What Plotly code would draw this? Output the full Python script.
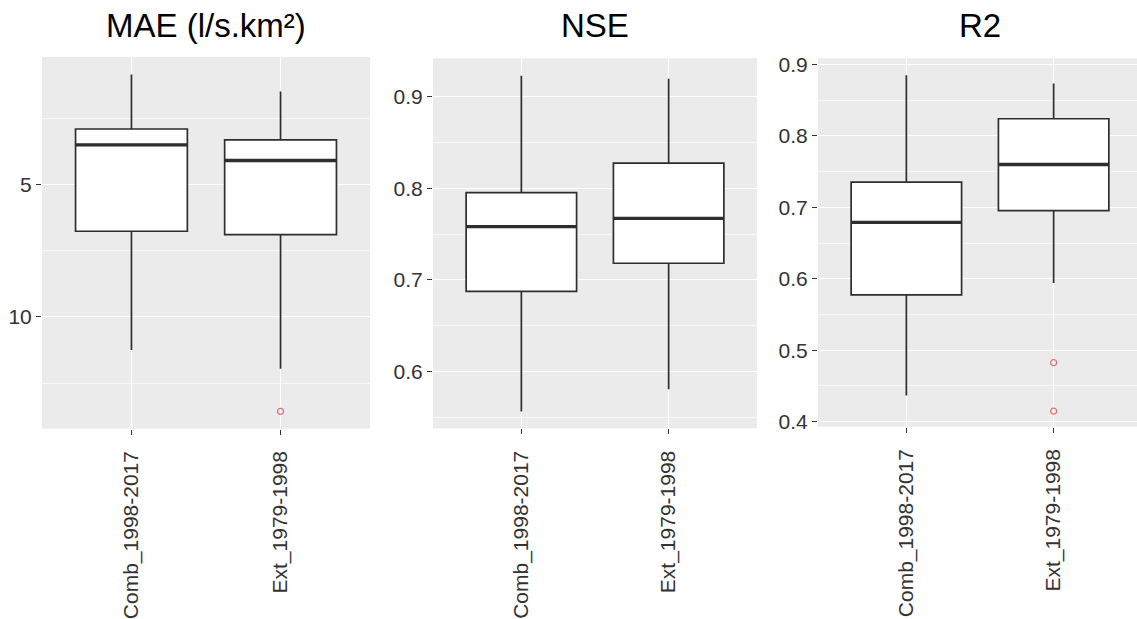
import plotly.graph_objects as go

# Categories and summary statistics per metric (five-number summaries + outliers)
categories = ["Comb_1998-2017", "Ext_1979-1998"]

mae_lower = [0.85, 1.49]
mae_q1 = [2.91, 3.32]
mae_median = [3.51, 4.10]
mae_q3 = [6.77, 6.90]
mae_upper = [11.25, 11.96]
mae_outliers = [[], [13.57]]

nse_lower = [0.5565, 0.5807]
nse_q1 = [0.6875, 0.7182]
nse_median = [0.7582, 0.7672]
nse_q3 = [0.7954, 0.8275]
nse_upper = [0.923, 0.9196]
nse_outliers = [[], []]

r2_lower = [0.4365, 0.594]
r2_q1 = [0.5775, 0.6955]
r2_median = [0.679, 0.760]
r2_q3 = [0.7355, 0.8241]
r2_upper = [0.885, 0.8735]
r2_outliers = [[], [0.4826, 0.4147]]

titles = ["MAE (l/s.km²)", "NSE", "R2"]

W, H = 1137, 619
FONT = "Liberation Sans, Arial, sans-serif"
TEXT = "#333333"
BOX_W = 0.75

# Panel placement in pixels: (left, right, top, bottom)
panels = [
    (42, 370, 53, 432),
    (433, 757, 54.3, 431.7),
    (818, 1142, 54.3, 430),
]
yranges = [
    [14.22, 0.19],     # MAE axis runs downward
    [0.538, 0.942],
    [0.393, 0.9088],
]
ymajor = [[5, 10], [0.6, 0.7, 0.8, 0.9], [0.4, 0.5, 0.6, 0.7, 0.8, 0.9]]
yminor = [[2.5, 7.5, 12.5], [0.55, 0.65, 0.75, 0.85], [0.45, 0.55, 0.65, 0.75, 0.85]]

metrics = [
    (mae_lower, mae_q1, mae_median, mae_q3, mae_upper, mae_outliers),
    (nse_lower, nse_q1, nse_median, nse_q3, nse_upper, nse_outliers),
    (r2_lower, r2_q1, r2_median, r2_q3, r2_upper, r2_outliers),
]

fig = go.Figure()
layout = dict(
    width=W, height=H, margin=dict(l=0, r=0, t=0, b=0),
    paper_bgcolor="white", plot_bgcolor="#EBEBEB", showlegend=False,
    font=dict(family=FONT, color=TEXT),
)
annotations = []
xpos = [1, 2]

for i, (stats, (l, r, t, b)) in enumerate(zip(metrics, panels)):
    lo, q1, med, q3, up, outs = stats
    xa = "x" if i == 0 else f"x{i+1}"
    ya = "y" if i == 0 else f"y{i+1}"
    for k in range(len(categories)):
        fig.add_trace(go.Box(
            x=[xpos[k]], q1=[q1[k]], median=[med[k]], q3=[q3[k]],
            lowerfence=[lo[k]], upperfence=[up[k]],
            width=BOX_W, whiskerwidth=0, fillcolor="white",
            line=dict(color="#2E2E2E", width=1.7), boxpoints=False,
            xaxis=xa, yaxis=ya, hoverinfo="skip",
        ))
        # thicker median bar
        fig.add_trace(go.Scatter(
            x=[xpos[k] - BOX_W / 2, xpos[k] + BOX_W / 2], y=[med[k], med[k]],
            mode="lines", line=dict(color="#2E2E2E", width=3.4),
            xaxis=xa, yaxis=ya, hoverinfo="skip",
        ))
        if outs[k]:
            fig.add_trace(go.Scatter(
                x=[xpos[k]] * len(outs[k]), y=outs[k], mode="markers",
                marker=dict(symbol="circle-open", size=6,
                            color="#E07070", line=dict(width=1.2)),
                xaxis=xa, yaxis=ya, hoverinfo="skip",
            ))

    key = "" if i == 0 else str(i + 1)
    # the last panel is cut by the right edge of the page
    px_per_unit = (r - l) / 2.2
    x_right = 2.6 - max(0, r - W) / px_per_unit
    layout["xaxis" + key] = dict(
        domain=[l / W, min(r, W) / W], anchor=ya,
        range=[0.4, x_right], tickvals=xpos, ticktext=categories,
        tickangle=-90, showgrid=True, gridcolor="white", gridwidth=1.3,
        zeroline=False, ticks="outside", ticklen=5, tickcolor=TEXT,
        ticklabelstandoff=8,
        tickfont=dict(size=21, color=TEXT, family=FONT), showline=False,
    )
    layout["yaxis" + key] = dict(
        domain=[1 - b / H, 1 - t / H], anchor=xa,
        range=yranges[i], tickvals=ymajor[i],
        showgrid=True, gridcolor="white", gridwidth=1.3,
        minor=dict(tickvals=yminor[i], showgrid=True, gridcolor="#F7F7F7",
                   gridwidth=0.8, ticks=""),
        zeroline=False, ticks="outside", ticklen=5, tickcolor=TEXT,
        tickfont=dict(size=21, color=TEXT, family=FONT), showline=False,
    )
    annotations.append(dict(
        text=titles[i], x=((l + r) / 2) / W, y=1 - 21 / H,
        xref="paper", yref="paper", xanchor="center", yanchor="middle",
        showarrow=False, font=dict(size=33, color="black", family=FONT),
    ))

layout["annotations"] = annotations
fig.update_layout(**layout)
fig.write_html("out.html")
